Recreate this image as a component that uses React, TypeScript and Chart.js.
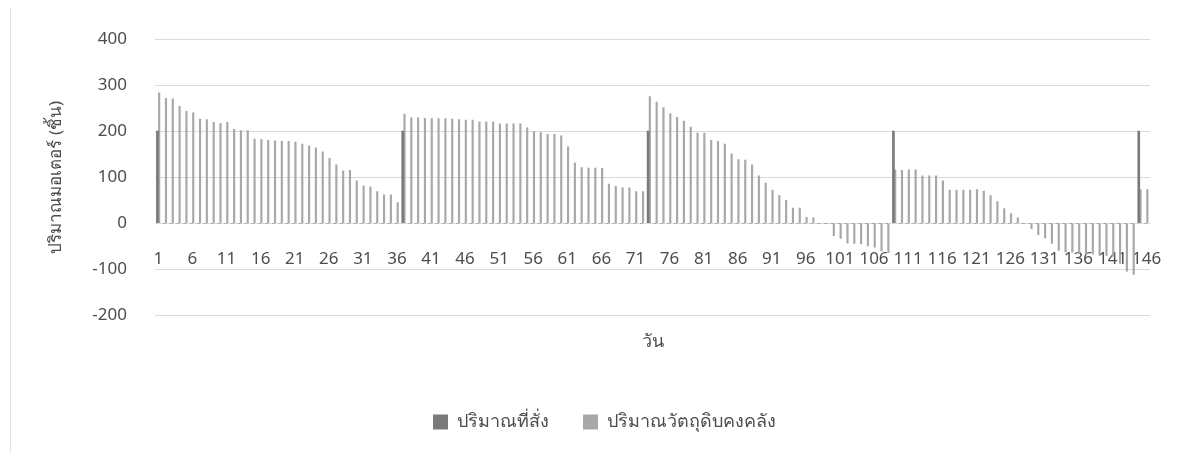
import React, { useEffect, useRef } from "react";
import { Chart, registerables } from "chart.js";

Chart.register(...registerables);

// Day numbers along the horizontal axis (1..146)
const days: string[] = Array.from({ length: 146 }, (_, i) => String(i + 1));

// Day numbers that carry a visible tick label
const dayTicks = [
  "1", "6", "11", "16", "21", "26", "31", "36", "41", "46", "51", "56", "61", "66", "71",
  "76", "81", "86", "91", "96", "101", "106", "111", "116", "121", "126", "131", "136", "141", "146",
];

// Quantity ordered on each day (pieces)
const orderQty = [
  200, 0, 0, 0, 0, 0, 0, 0, 0, 0,
  0, 0, 0, 0, 0, 0, 0, 0, 0, 0,
  0, 0, 0, 0, 0, 0, 0, 0, 0, 0,
  0, 0, 0, 0, 0, 0, 200, 0, 0, 0,
  0, 0, 0, 0, 0, 0, 0, 0, 0, 0,
  0, 0, 0, 0, 0, 0, 0, 0, 0, 0,
  0, 0, 0, 0, 0, 0, 0, 0, 0, 0,
  0, 0, 200, 0, 0, 0, 0, 0, 0, 0,
  0, 0, 0, 0, 0, 0, 0, 0, 0, 0,
  0, 0, 0, 0, 0, 0, 0, 0, 0, 0,
  0, 0, 0, 0, 0, 0, 0, 0, 200, 0,
  0, 0, 0, 0, 0, 0, 0, 0, 0, 0,
  0, 0, 0, 0, 0, 0, 0, 0, 0, 0,
  0, 0, 0, 0, 0, 0, 0, 0, 0, 0,
  0, 0, 0, 0, 200, 0,
];

// Raw-material stock on hand at the end of each day (pieces)
const stockQty = [
  283, 271, 270, 254, 243, 240, 226, 225, 219, 217,
  219, 204, 201, 201, 183, 182, 180, 179, 178, 178,
  176, 172, 168, 164, 155, 141, 127, 114, 115, 92,
  81, 79, 69, 62, 62, 45, 237, 229, 229, 228,
  227, 227, 227, 226, 225, 224, 224, 220, 220, 220,
  216, 216, 216, 216, 207, 199, 197, 193, 193, 190,
  166, 131, 121, 120, 120, 119, 85, 80, 77, 77,
  69, 69, 275, 263, 251, 238, 230, 222, 209, 196,
  196, 180, 178, 172, 151, 138, 137, 127, 103, 87,
  72, 60, 50, 33, 33, 13, 12, 0, 0, -27,
  -33, -43, -44, -45, -49, -52, -60, -64, 116, 115,
  116, 116, 103, 103, 103, 92, 72, 72, 72, 72,
  73, 70, 60, 47, 32, 21, 12, 0, -12, -25,
  -32, -44, -59, -63, -63, -65, -67, -67, -70, -70,
  -72, -87, -104, -111, 73, 73,
];

const FONT_FAMILY = "'Noto Sans', 'DejaVu Sans', sans-serif";
const TEXT_COLOR = "#4d4d4d";

export default function App() {
  const canvasRef = useRef<HTMLCanvasElement>(null);

  useEffect(() => {
    const canvas = canvasRef.current;
    if (!canvas) return;

    const chart = new Chart(canvas, {
      type: "bar",
      data: {
        labels: days,
        datasets: [
          {
            label: "ปริมาณที่สั่ง",
            data: orderQty,
            backgroundColor: "#7a7a7a",
            barThickness: 2,
            xAxisID: "x",
            yAxisID: "y",
          },
          {
            label: "ปริมาณวัตถุดิบคงคลัง",
            data: stockQty,
            backgroundColor: "#a8a8a8",
            barThickness: 1.5,
            xAxisID: "x",
            yAxisID: "y",
          },
        ],
      },
      options: {
        animation: false,
        responsive: false,
        layout: { padding: { left: 10, right: 0, top: 31, bottom: 12 } },
        scales: {
          // day labels sit just under the zero line
          x: {
            type: "category",
            position: { y: 0 },
            grid: { display: false },
            border: { display: false },
            ticks: {
              autoSkip: false,
              maxRotation: 0,
              minRotation: 0,
              padding: 18,
              color: TEXT_COLOR,
              font: { family: FONT_FAMILY, size: 17 },
              callback: (_v: any, i: number) => (dayTicks.includes(days[i]) ? days[i] : ""),
            },
          },
          // bottom axis that only carries the "day" title
          x2: {
            type: "category",
            position: "bottom",
            grid: { display: false },
            border: { display: false },
            ticks: { display: false },
            title: {
              display: true,
              text: "วัน",
              color: TEXT_COLOR,
              font: { family: FONT_FAMILY, size: 18 },
              padding: { top: 8, bottom: 26 },
            },
          },
          y: {
            min: -200,
            max: 400,
            grid: { color: "#dadada", drawTicks: false },
            border: { display: false },
            ticks: {
              stepSize: 100,
              padding: 28,
              color: TEXT_COLOR,
              font: { family: FONT_FAMILY, size: 17 },
            },
            title: {
              display: true,
              text: "ปริมาณมอเตอร์ (ชิ้น)",
              color: TEXT_COLOR,
              font: { family: FONT_FAMILY, size: 17 },
              padding: { top: 28, bottom: 0 },
            },
            afterFit: (scale: any) => {
              scale.width = 137;
              scale.paddingTop = 10;
              scale.paddingBottom = 10;
            },
          },
          // empty right-hand gutter
          y2: {
            type: "linear",
            position: "right",
            min: -200,
            max: 400,
            grid: { display: false },
            border: { display: false },
            ticks: { display: false },
            afterFit: (scale: any) => {
              scale.width = 41;
              scale.paddingTop = 0;
              scale.paddingBottom = 0;
            },
          },
        },
        plugins: {
          legend: {
            position: "bottom",
            labels: {
              boxWidth: 15,
              boxHeight: 15,
              padding: 34,
              color: TEXT_COLOR,
              font: { family: FONT_FAMILY, size: 18 },
            },
          },
          tooltip: { enabled: false },
        },
      },
    });

    return () => chart.destroy();
  }, []);

  return (
    <div style={{ position: "relative", width: 1183, height: 445 }}>
      {/* light frame around the chart box */}
      <div
        style={{
          position: "absolute",
          left: 2,
          top: -3,
          width: 1200,
          height: 470,
          borderTop: "1px solid #e4e4e4",
          borderLeft: "1px solid #e4e4e4",
          pointerEvents: "none",
        }}
      />
      <canvas ref={canvasRef} width={1183} height={445} style={{ display: "block" }} />
    </div>
  );
}
